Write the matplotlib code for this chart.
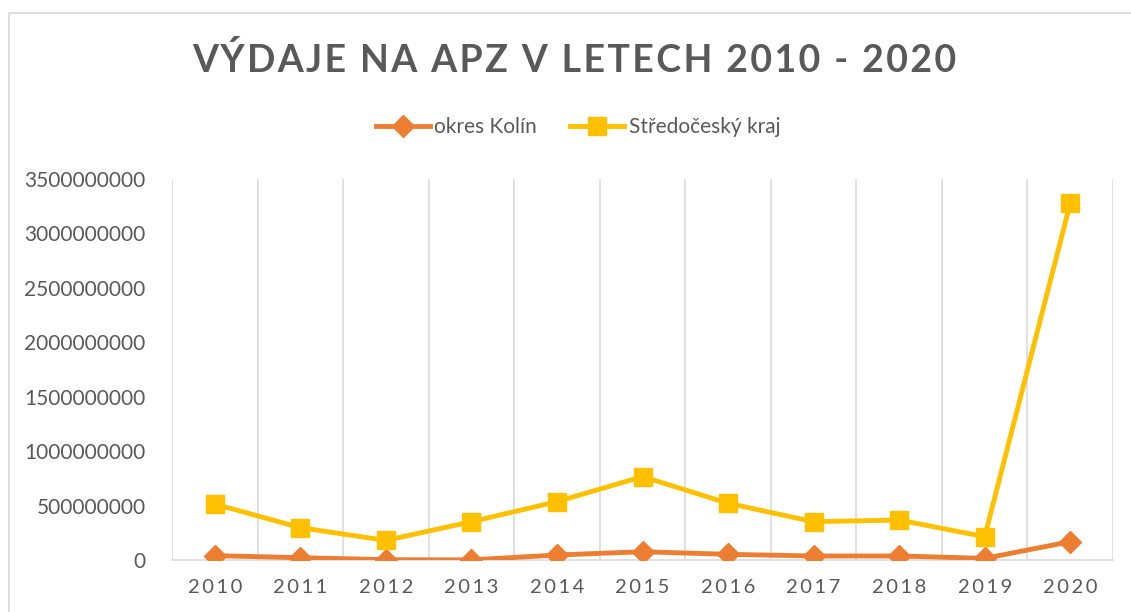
import matplotlib
matplotlib.use("Agg")
import matplotlib.pyplot as plt
from matplotlib.patches import Rectangle
from matplotlib.ticker import FuncFormatter, MultipleLocator

years = ["2010", "2011", "2012", "2013", "2014", "2015", "2016", "2017", "2018", "2019", "2020"]
kolin = [40e6, 21e6, 3e6, 1e6, 46e6, 76e6, 52e6, 37e6, 37e6, 15e6, 168e6]
stredocesky = [514e6, 297e6, 180e6, 352e6, 536e6, 766e6, 521e6, 352e6, 367e6, 214e6, 3277e6]
series_names = ["okres Kolín", "Středočeský kraj"]
title = "VÝDAJE NA APZ V LETECH 2010 - 2020"

GRAY = "#595959"
GRID = "#d9d9d9"
ORANGE = "#ED7D31"
YELLOW = "#FFC000"
FAM = ["Lato", "DejaVu Sans"]

plt.rcParams["font.family"] = FAM

W, H = 1131, 612
fig = plt.figure(figsize=(W / 100, H / 100), dpi=100)
fig.patch.set_facecolor("white")

# chart frame
fig.patches.append(Rectangle((9 / W, -0.5), 2.0, 0.5 + (1 - 13 / H), transform=fig.transFigure,
                             fill=False, edgecolor=GRID, lw=1.2, zorder=0))

ax = fig.add_axes([172 / W, 1 - 560 / H, (1113 - 172) / W, (560 - 179) / H])
x = list(range(len(years)))
ax.plot(x, kolin, color=ORANGE, lw=3.5, marker="D", markersize=11, label=series_names[0], zorder=3)
ax.plot(x, stredocesky, color=YELLOW, lw=3.5, marker="s", markersize=13, label=series_names[1], zorder=4)

ax.set_xlim(-0.5, len(years) - 0.5)
ax.set_ylim(0, 3.5e9)
ax.yaxis.set_major_locator(MultipleLocator(5e8))
ax.yaxis.set_major_formatter(FuncFormatter(lambda v, p: "%d" % round(v)))
ax.set_xticks(x)
ax.set_xticklabels(["\u2009".join(y) for y in years])
ax.tick_params(axis="x", length=0, pad=14, labelsize=14.5, labelcolor=GRAY)
ax.tick_params(axis="y", length=0, pad=19, labelsize=15, labelcolor=GRAY)

for xv in [i - 0.5 for i in range(len(years) + 1)]:
    ax.axvline(xv, color=GRID, lw=1.1, zorder=1)
for s in ["top", "right", "left"]:
    ax.spines[s].set_visible(False)
ax.spines["bottom"].set_color(GRID)
ax.spines["bottom"].set_linewidth(1.1)

fig.text(574 / W, 1 - 60 / H, "\u200a".join(title), ha="center", va="center",
         fontsize=27, fontweight="bold", color=GRAY)

handles, labels = ax.get_legend_handles_labels()
fig.legend(handles, labels, loc="center", bbox_to_anchor=(578 / W, 1 - 127 / H), ncol=2,
           frameon=False, fontsize=15, handlelength=2.6, columnspacing=1.6, handletextpad=0.2,
           labelcolor=GRAY)

fig.savefig("out.png", dpi=100, facecolor="white")
